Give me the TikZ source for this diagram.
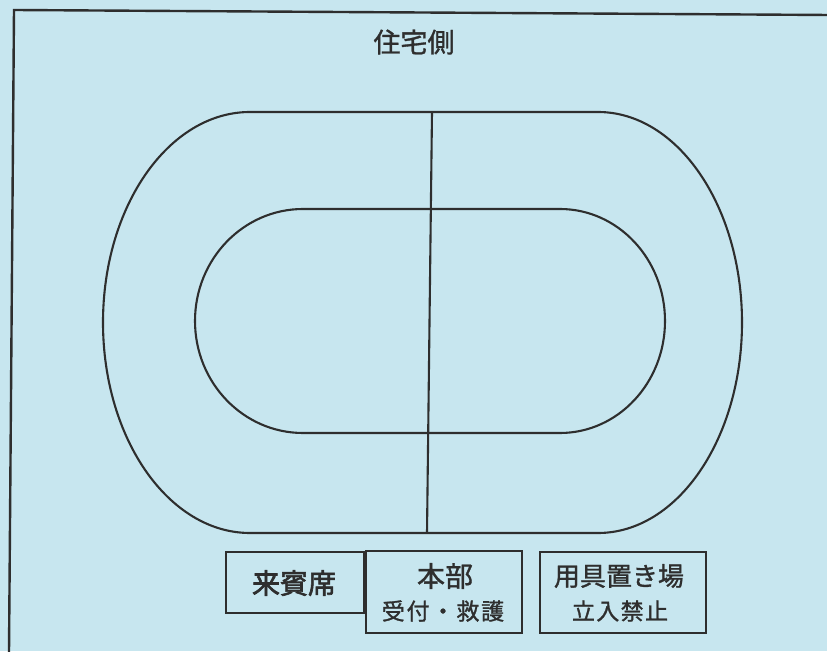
\documentclass[tikz,border=0pt]{standalone}
\usepackage{fontspec}
\newfontfamily\jp[FakeBold=1.2]{Noto Sans CJK JP}
\newfontfamily\jpb[FakeBold=2.2]{Noto Sans CJK JP}
\definecolor{bgblue}{HTML}{C7E6EF}
\definecolor{ink}{HTML}{2E2E2E}
\tikzset{
  trackline/.style={draw=ink, line width=2.1pt},
  framebox/.style={draw=ink, line width=1.9pt},
  label/.style={text=ink, inner sep=0pt, font=\jp},
}
\begin{document}
\begin{tikzpicture}[x=1pt,y=1pt]
\useasboundingbox (0,0) rectangle (827,651);
\fill[bgblue] (0,0) rectangle (827,651);
% page frame
\draw[ink, line width=2.4pt] (9,-2) -- (14,641) -- (829,636);
% outer track
\draw[trackline] (250,539) -- (598,539)
  arc[start angle=90, end angle=-90, x radius=144, y radius=210.5]
  -- (250,118)
  arc[start angle=270, end angle=90, x radius=147, y radius=210.5] -- cycle;
% inner track
\draw[trackline] (303,442) -- (560,442)
  arc[start angle=90, end angle=-90, x radius=105, y radius=112]
  -- (303,218)
  arc[start angle=270, end angle=90, x radius=108, y radius=112] -- cycle;
% centre line
\coordinate (ctop) at (432,539);
\coordinate (cbot) at (427,118);
\draw[trackline] (ctop) -- (cbot);
% label top
\node[label, font=\jp\fontsize{27}{29}\selectfont] (jutaku) at (414,609) {住宅側};
% boxes
\draw[framebox] (226,38) rectangle (364,99);
\draw[framebox] (366,18) rectangle (522,100);
\draw[framebox] (540,18) rectangle (706,99);
\node[label, font=\jpb\fontsize{28}{30}\selectfont] (raihin) at (294,68) {来賓席};
\node[label, font=\jp\fontsize{28}{30}\selectfont] (honbu) at (445,75) {本部};
\node[label, font=\jp\fontsize{23}{25}\selectfont\addfontfeatures{LetterSpace=8}] (uketsuke) at (443,40) {受付・救護};
\node[label, font=\jp\fontsize{26}{28}\selectfont] (yougu) at (619,75) {用具置き場};
\node[label, font=\jp\fontsize{23}{25}\selectfont\addfontfeatures{LetterSpace=6}] (tachiiri) at (620,40) {立入禁止};
\end{tikzpicture}
\end{document}
